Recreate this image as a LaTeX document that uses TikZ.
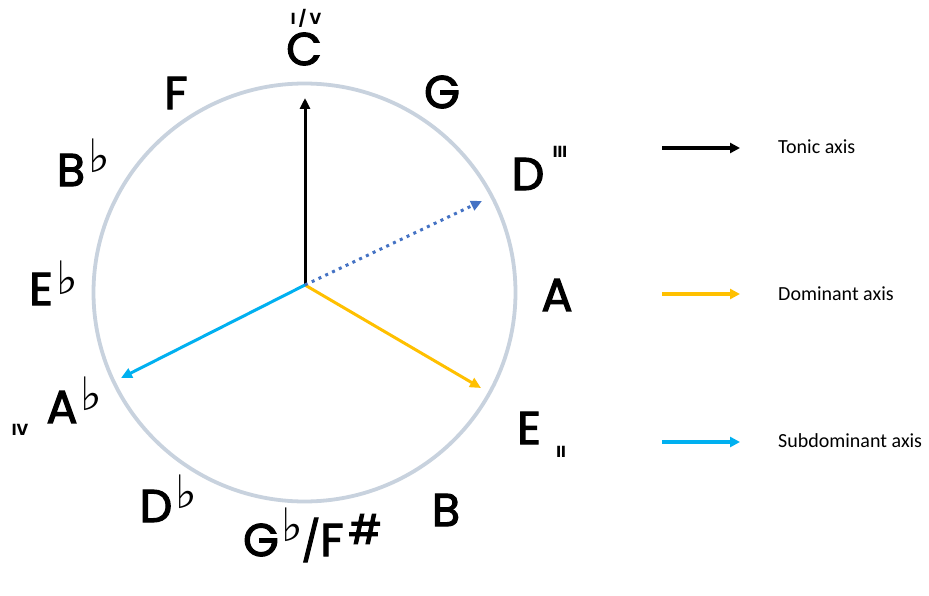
\documentclass[tikz,border=0pt]{standalone}
\usepackage{fontspec}
\setmainfont{Poppins}
\newfontfamily\notefont[FakeBold=2.5]{Poppins}
\newfontfamily\legendfont{Carlito}
\newfontfamily\symfont{DejaVu Sans}
\usetikzlibrary{arrows.meta}
\definecolor{ringcol}{RGB}{200,210,222}
\definecolor{domcol}{RGB}{255,192,0}
\definecolor{subcol}{RGB}{0,176,240}
\definecolor{dotcol}{RGB}{68,114,196}
\begin{document}
\begin{tikzpicture}[x=1pt,y=-1pt,
  note/.style={font=\notefont\fontsize{46}{46}\selectfont, inner sep=0pt},
  acc/.style={font=\symfont\fontsize{46}{46}\selectfont, inner sep=0pt},
  sharp/.style={font=\notefont\fontsize{40}{40}\selectfont, inner sep=0pt},
  slashstyle/.style={font=\notefont\fontsize{40}{40}\selectfont, inner sep=0pt},
  roman/.style={font=\fontsize{16}{16}\selectfont\bfseries, inner sep=0pt},
  legtext/.style={font=\legendfont\fontsize{20}{20}\selectfont, inner sep=0pt, anchor=west},
  axisarrow/.style={line width=3pt, -{Triangle[length=11pt,width=10pt]}},
  legarrow/.style={line width=3.5pt, -{Triangle[length=10pt,width=10pt]}},
]
\useasboundingbox[fill=white] (0,0) rectangle (929,596);
\draw[ringcol, line width=3.8pt] (304.5,292.5) ellipse [x radius=211, y radius=209];

% axes
\coordinate (O) at (305,285);
\coordinate (tonicTip) at (305,98);
\coordinate (domTip) at (481,388);
\coordinate (subTip) at (121,378);
\coordinate (dotTip) at (482,201);
\draw[axisarrow, black] (O) -- (tonicTip);
\draw[axisarrow, domcol] (O) -- (domTip);
\draw[axisarrow, subcol] (O) -- (subTip);
\draw[line width=3pt, dotcol, dash pattern=on 3pt off 4.5pt, -{Triangle[length=11pt,width=10pt]}] (O) -- (dotTip);

% notes
\node[note] (C) at (304,49) {C};
\node[roman] (CI) at (306,18) {I / V};
\node[note] (F) at (176,93) {F};
\node[note] (G) at (442,92) {G};
\node[note] (Bb) at (71,170) {B};
\node[acc] (Bbf) at (99,156) {♭};
\node[note] (D) at (528,174) {D};
\node[roman] (DIII) at (560,152) {III};
\node[note] (Eb) at (41,289) {E};
\node[acc] (Ebf) at (67,278) {♭};
\node[note] (A) at (557,295) {A};
\node[note] (Ab) at (62,407) {A};
\node[acc] (Abf) at (91,394) {♭};
\node[roman] (AbIV) at (20,430) {IV};
\node[note] (E) at (529,428) {E};
\node[roman] (EII) at (561,452) {II};
\node[note] (Db) at (156,506) {D};
\node[acc] (Dbf) at (186,492) {♭};
\node[note] (B) at (446,510) {B};
\node[note] (Gb) at (261,540) {G};
\node[acc] (Gbf) at (292,525) {♭};
\node[slashstyle] (slash) at (311,540) {/};
\node[note] (Fs) at (332,540) {F};
\node[sharp] (Fss) at (365,529) {\#};

% legend
\coordinate (l1a) at (662,148); \coordinate (l1b) at (740,148);
\coordinate (l2a) at (662,294); \coordinate (l2b) at (740,294);
\coordinate (l3a) at (662,442); \coordinate (l3b) at (740,442);
\draw[legarrow, black] (l1a) -- (l1b);
\draw[legarrow, domcol] (l2a) -- (l2b);
\draw[legarrow, subcol] (l3a) -- (l3b);
\node[legtext] (t1) at (778,147) {Tonic axis};
\node[legtext] (t2) at (778,294) {Dominant axis};
\node[legtext] (t3) at (778,441) {Subdominant axis};
\end{tikzpicture}
\end{document}
